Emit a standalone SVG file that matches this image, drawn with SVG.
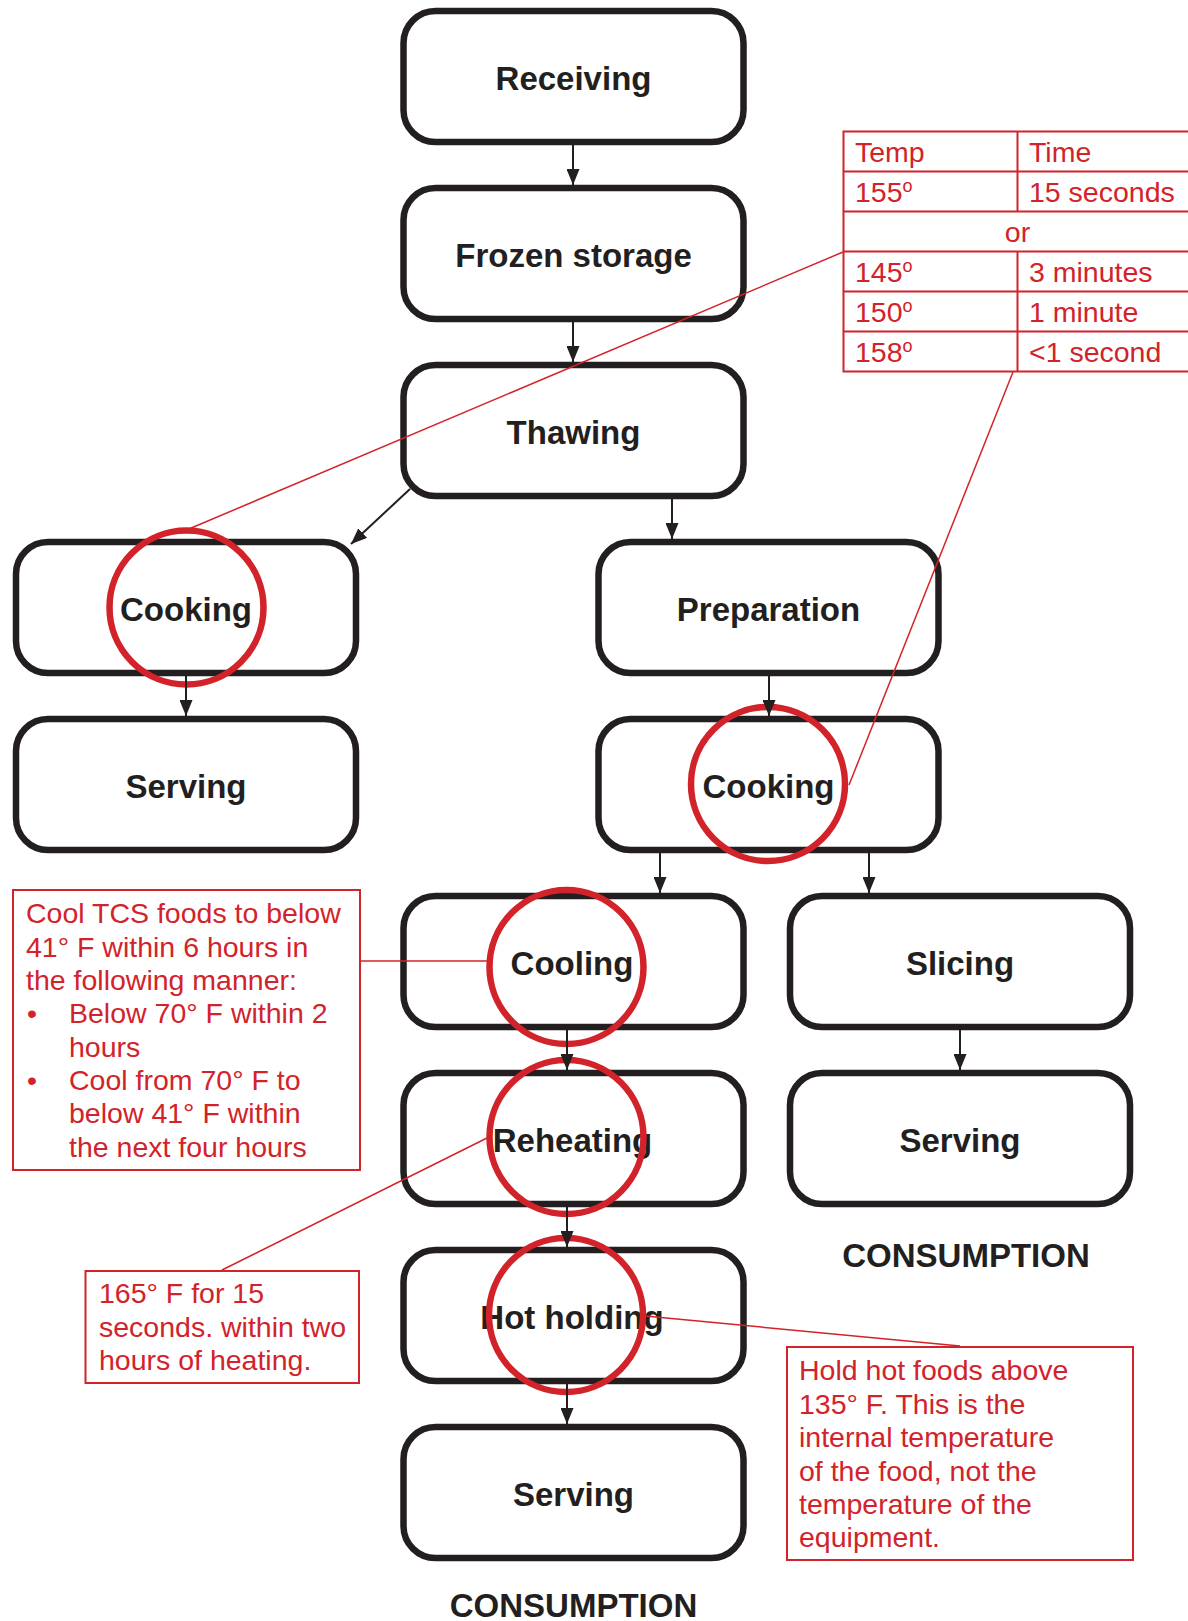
<svg xmlns="http://www.w3.org/2000/svg" width="1188" height="1621" viewBox="0 0 1188 1621">
<style>
.box{fill:#fff;stroke:#231f20;stroke-width:6.5}
.lbl{font-family:"Liberation Sans",Arial,sans-serif;font-weight:bold;font-size:33px;fill:#231f20;text-anchor:middle}
.con{stroke:#231f20;stroke-width:2;fill:none}
.ring{fill:none;stroke:#d2232a;stroke-width:6.5}
.lead{stroke:#d2232a;stroke-width:1.5;fill:none}
.note{fill:#fff;stroke:#d2232a;stroke-width:2}
.rt{font-family:"Liberation Sans",Arial,sans-serif;font-size:28.5px;fill:#d2232a}
.tl{stroke:#d2232a;stroke-width:2;fill:none}
</style>
<defs>
<marker id="ah" viewBox="0 0 16 13" refX="16" refY="6.5" markerWidth="16" markerHeight="13" markerUnits="userSpaceOnUse" orient="auto">
<path d="M0,0 L16,6.5 L0,13 z" fill="#231f20"/>
</marker>
</defs>

<g id="receiving"><rect class="box" x="403.5" y="11" width="340" height="131" rx="32"/><text class="lbl" x="573.5" y="90">Receiving</text></g>
<g id="frozen-storage"><rect class="box" x="403.5" y="188" width="340" height="131" rx="32"/><text class="lbl" x="573.5" y="267">Frozen storage</text></g>
<g id="thawing"><rect class="box" x="403.5" y="365" width="340" height="131" rx="32"/><text class="lbl" x="573.5" y="444">Thawing</text></g>
<g id="cooking-left"><rect class="box" x="16" y="542" width="340" height="131" rx="32"/><text class="lbl" x="186" y="621">Cooking</text></g>
<g id="serving-left"><rect class="box" x="16" y="719" width="340" height="131" rx="32"/><text class="lbl" x="186" y="798">Serving</text></g>
<g id="preparation"><rect class="box" x="598.5" y="542" width="340" height="131" rx="32"/><text class="lbl" x="768.5" y="621">Preparation</text></g>
<g id="cooking-right"><rect class="box" x="598.5" y="719" width="340" height="131" rx="32"/><text class="lbl" x="768.5" y="798">Cooking</text></g>
<g id="cooling"><rect class="box" x="403.5" y="896" width="340" height="131" rx="32"/><text class="lbl" x="572" y="975">Cooling</text></g>
<g id="slicing"><rect class="box" x="790" y="896" width="340" height="131" rx="32"/><text class="lbl" x="960" y="975">Slicing</text></g>
<g id="reheating"><rect class="box" x="403.5" y="1073" width="340" height="131" rx="32"/><text class="lbl" x="572.5" y="1152">Reheating</text></g>
<g id="serving-right"><rect class="box" x="790" y="1073" width="340" height="131" rx="32"/><text class="lbl" x="960" y="1152">Serving</text></g>
<g id="hot-holding"><rect class="box" x="403.5" y="1250" width="340" height="131" rx="32"/><text class="lbl" x="572" y="1329">Hot holding</text></g>
<g id="serving-bottom"><rect class="box" x="403.5" y="1427" width="340" height="131" rx="32"/><text class="lbl" x="573.5" y="1506">Serving</text></g>

<g id="consumption-right"><text class="lbl" x="966" y="1267">CONSUMPTION</text></g>
<g id="consumption-bottom"><text class="lbl" x="573.5" y="1617">CONSUMPTION</text></g>

<g id="critical-points">
<circle class="ring" cx="186.5" cy="607.5" r="77"/>
<circle class="ring" cx="768" cy="784" r="77"/>
<circle class="ring" cx="566.5" cy="967" r="77"/>
<circle class="ring" cx="566.5" cy="1137" r="77"/>
<circle class="ring" cx="566" cy="1315" r="77"/>
</g>

<g id="connectors">
<line class="con" marker-end="url(#ah)" x1="573" y1="145" x2="573" y2="185"/>
<line class="con" marker-end="url(#ah)" x1="573" y1="322" x2="573" y2="362"/>
<line class="con" marker-end="url(#ah)" x1="410" y1="489" x2="351" y2="544"/>
<line class="con" marker-end="url(#ah)" x1="672" y1="499" x2="672" y2="539"/>
<line class="con" marker-end="url(#ah)" x1="186" y1="676" x2="186" y2="716"/>
<line class="con" marker-end="url(#ah)" x1="769" y1="676" x2="769" y2="716"/>
<line class="con" marker-end="url(#ah)" x1="660" y1="853" x2="660" y2="893"/>
<line class="con" marker-end="url(#ah)" x1="869" y1="853" x2="869" y2="893"/>
<line class="con" marker-end="url(#ah)" x1="567" y1="1030" x2="567" y2="1070"/>
<line class="con" marker-end="url(#ah)" x1="960" y1="1030" x2="960" y2="1070"/>
<line class="con" marker-end="url(#ah)" x1="567" y1="1207" x2="567" y2="1247"/>
<line class="con" marker-end="url(#ah)" x1="567" y1="1384" x2="567" y2="1424"/>
</g>

<g id="leaders">
<line class="lead" x1="843" y1="252" x2="186.5" y2="530"/>
<line class="lead" x1="1013" y1="372" x2="849" y2="785"/>
<line class="lead" x1="360" y1="961" x2="489" y2="961"/>
<line class="lead" x1="489" y1="1137" x2="222" y2="1270"/>
<line class="lead" x1="645" y1="1316" x2="960" y2="1346"/>
</g>

<g id="temp-table">
<rect class="note" x="843.5" y="131.5" width="360" height="240"/>
<line class="tl" x1="843.5" y1="171.5" x2="1200" y2="171.5"/>
<line class="tl" x1="843.5" y1="211.5" x2="1200" y2="211.5"/>
<line class="tl" x1="843.5" y1="251.5" x2="1200" y2="251.5"/>
<line class="tl" x1="843.5" y1="291.5" x2="1200" y2="291.5"/>
<line class="tl" x1="843.5" y1="331.5" x2="1200" y2="331.5"/>
<line class="tl" x1="1017.5" y1="131.5" x2="1017.5" y2="211.5"/>
<line class="tl" x1="1017.5" y1="251.5" x2="1017.5" y2="371.5"/>
<text class="rt" x="855" y="162">Temp</text>
<text class="rt" x="1029" y="162">Time</text>
<text class="rt" x="855" y="202">155<tspan font-size="18" dy="-10">o</tspan></text>
<text class="rt" x="1029" y="202">15 seconds</text>
<text class="rt" x="1017.5" y="242" text-anchor="middle">or</text>
<text class="rt" x="855" y="282">145<tspan font-size="18" dy="-10">o</tspan></text>
<text class="rt" x="1029" y="282">3 minutes</text>
<text class="rt" x="855" y="322">150<tspan font-size="18" dy="-10">o</tspan></text>
<text class="rt" x="1029" y="322">1 minute</text>
<text class="rt" x="855" y="362">158<tspan font-size="18" dy="-10">o</tspan></text>
<text class="rt" x="1029" y="362">&lt;1 second</text>
</g>

<g id="cooling-note">
<rect class="note" x="13" y="890" width="347" height="280"/>
<text class="rt" x="26" y="923">Cool TCS foods to below</text>
<text class="rt" x="26" y="956.5">41° F within 6 hours in</text>
<text class="rt" x="26" y="990">the following manner:</text>
<text class="rt" x="27" y="1023">•</text>
<text class="rt" x="69" y="1023">Below 70° F within 2</text>
<text class="rt" x="69" y="1056.5">hours</text>
<text class="rt" x="27" y="1090">•</text>
<text class="rt" x="69" y="1090">Cool from 70° F to</text>
<text class="rt" x="69" y="1123">below 41° F within</text>
<text class="rt" x="69" y="1157">the next four hours</text>
</g>

<g id="reheating-note">
<rect class="note" x="85.5" y="1271" width="273.5" height="112"/>
<text class="rt" x="99" y="1303">165° F for 15</text>
<text class="rt" x="99" y="1337">seconds. within two</text>
<text class="rt" x="99" y="1370">hours of heating.</text>
</g>

<g id="hot-holding-note">
<rect class="note" x="787" y="1347" width="346" height="213"/>
<text class="rt" x="799" y="1380">Hold hot foods above</text>
<text class="rt" x="799" y="1413.5">135° F. This is the</text>
<text class="rt" x="799" y="1447">internal temperature</text>
<text class="rt" x="799" y="1480.5">of the food, not the</text>
<text class="rt" x="799" y="1514">temperature of the</text>
<text class="rt" x="799" y="1547">equipment.</text>
</g>
</svg>
